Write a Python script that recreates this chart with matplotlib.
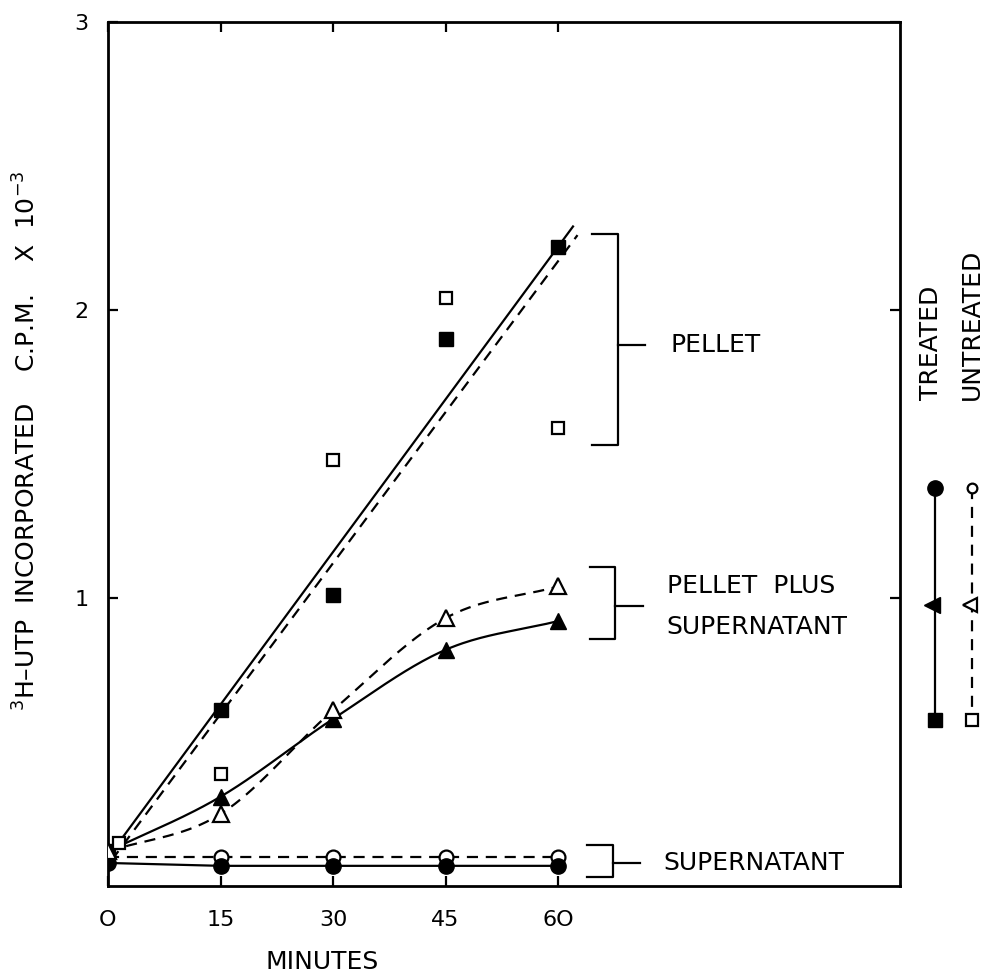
import numpy as np
import matplotlib
matplotlib.use("Agg")
import matplotlib.pyplot as plt

# ---------------- data ----------------
minutes = [0, 15, 30, 45, 60]
x_tick_labels = ["O", "15", "30", "45", "6O"]
y_ticks = [1, 2, 3]
y_tick_labels = ["1", "2", "3"]

# Pellet
pellet_treated_x = [0, 15, 30, 45, 60]
pellet_treated = [0.12, 0.61, 1.01, 1.90, 2.22]
pellet_untreated_x = [1.5, 15, 30, 45, 60]
pellet_untreated = [0.15, 0.39, 1.48, 2.04, 1.59]
# hand-drawn straight lines through the pellet points (end points)
pellet_line_treated_x = [0, 62]
pellet_line_treated_y = [0.10, 2.29]
pellet_line_untreated_x = [0.5, 62.6]
pellet_line_untreated_y = [0.09, 2.26]

# Pellet plus supernatant
ps_treated = [0.12, 0.31, 0.58, 0.82, 0.92]
ps_untreated = [0.12, 0.25, 0.61, 0.93, 1.04]

# Supernatant
sup_treated = [0.08, 0.07, 0.07, 0.07, 0.07]
sup_untreated = [0.10, 0.10, 0.10, 0.10, 0.10]


def smooth(x, y, n=40):
    """Catmull-Rom curve through the given points (for drawing only)."""
    P = np.column_stack([np.asarray(x, float), np.asarray(y, float)])
    P = np.vstack([2 * P[0] - P[1], P, 2 * P[-1] - P[-2]])
    t = np.linspace(0, 1, n)[:, None]
    segs = []
    for i in range(1, len(P) - 2):
        p0, p1, p2, p3 = P[i - 1], P[i], P[i + 1], P[i + 2]
        seg = 0.5 * (2 * p1 + (-p0 + p2) * t
                     + (2 * p0 - 5 * p1 + 4 * p2 - p3) * t ** 2
                     + (-p0 + 3 * p1 - 3 * p2 + p3) * t ** 3)
        segs.append(seg)
    pts = np.vstack(segs)
    return pts[:, 0], pts[:, 1]


plt.rcParams['font.family'] = ['DejaVu Sans']
W, H = 985, 975
fig = plt.figure(figsize=(W / 100, H / 100), dpi=100)
fig.patch.set_facecolor('white')

left, right, top, bottom = 108, 900, 22, 886
ax = fig.add_axes([left / W, 1 - bottom / H, (right - left) / W, (bottom - top) / H])
ax.set_xlim(0, 105.6)
ax.set_ylim(0, 3)

lw = 1.6
dash = (0, (5, 3.5))
k = 'black'

# pellet lines and points
ax.plot(pellet_line_treated_x, pellet_line_treated_y, color=k, lw=lw, zorder=2)
ax.plot(pellet_line_untreated_x, pellet_line_untreated_y, color=k, lw=lw, ls=dash, zorder=2)
ax.plot(pellet_treated_x, pellet_treated, ls='none', marker='s', ms=10, color=k, zorder=4)
ax.plot(pellet_untreated_x, pellet_untreated, ls='none', marker='s', ms=9, mfc='white',
        mec=k, mew=1.6, zorder=5)

# pellet plus supernatant curves
cx, cy = smooth(minutes, ps_treated)
ax.plot(cx, cy, color=k, lw=lw, zorder=2)
cx, cy = smooth(minutes, ps_untreated)
ax.plot(cx, cy, color=k, lw=lw, ls=dash, zorder=2)
ax.plot(minutes, ps_treated, ls='none', marker='^', ms=11, color=k, zorder=4)
ax.plot(minutes, ps_untreated, ls='none', marker='^', ms=11, mfc='white', mec=k,
        mew=1.6, zorder=5)

# supernatant
ax.plot(minutes, sup_untreated, color=k, lw=lw, ls=dash, zorder=2)
ax.plot(minutes, sup_untreated, ls='none', marker='o', ms=10, mfc='white', mec=k,
        mew=1.6, zorder=3)
ax.plot(minutes, sup_treated, color=k, lw=lw, zorder=2)
ax.plot(minutes, sup_treated, ls='none', marker='o', ms=11, color=k, zorder=4)

# brackets with labels
fs = 18
blw = 1.6


def bracket(x0, x1, x2, ylo, yhi, ymid):
    ax.plot([x0, x1, x1, x0], [yhi, yhi, ylo, ylo], color=k, lw=blw, clip_on=False)
    ax.plot([x1, x2], [ymid, ymid], color=k, lw=blw, clip_on=False)


bracket(64.5, 68.0, 71.6, 1.53, 2.265, 1.88)
ax.text(75.0, 1.88, "PELLET", fontsize=fs, ha='left', va='center')
bracket(64.2, 67.6, 71.3, 0.858, 1.108, 0.972)
ax.text(74.5, 1.04, "PELLET  PLUS", fontsize=fs, ha='left', va='center')
ax.text(74.5, 0.90, "SUPERNATANT", fontsize=fs, ha='left', va='center')
bracket(63.9, 67.3, 70.9, 0.031, 0.142, 0.08)
ax.text(74.0, 0.08, "SUPERNATANT", fontsize=fs, ha='left', va='center')

# axes styling
for s in ax.spines.values():
    s.set_linewidth(2.0)
ax.set_xticks(minutes)
ax.set_xticklabels(x_tick_labels, fontsize=16)
ax.set_yticks(y_ticks)
ax.set_yticklabels(y_tick_labels, fontsize=16)
ax.tick_params(axis='x', direction='in', length=7, width=1.6, pad=17,
               top=True, labeltop=False)
ax.tick_params(axis='y', direction='in', length=7, width=1.6, pad=14,
               right=True, labelright=False)
ax.set_xlabel("MINUTES", fontsize=fs)
ax.xaxis.label.set_va('center')
ax.xaxis.set_label_coords(28.5 / 105.6, (886 - 962) / 864)
ax.set_ylabel(r"$^{3}$H–UTP  INCORPORATED    C.P.M.    X  10$^{-3}$", fontsize=fs)
ax.yaxis.label.set_va('center')
ax.yaxis.set_label_coords((27 - 108) / 792, 0.515)

# key on the right (drawn in pixel space of the figure)
lg = fig.add_axes([0, 0, 1, 1])
lg.set_xlim(0, W)
lg.set_ylim(H, 0)
lg.axis('off')
lg.plot([935, 935], [488, 720], color=k, lw=lw)
lg.plot([935], [488], marker='o', ms=11, color=k)
lg.plot([932], [605], marker='<', ms=11, color=k)
lg.plot([935], [720], marker='s', ms=10, color=k)
lg.plot([972, 972], [488, 720], color=k, lw=lw, ls=dash)
lg.plot([972], [488], marker='o', ms=7, mfc='white', mec=k, mew=1.6)
lg.plot([970], [605], marker='<', ms=10, mfc='white', mec=k, mew=1.6)
lg.plot([972], [720], marker='s', ms=9, mfc='white', mec=k, mew=1.6)
lg.text(931, 400, "TREATED", rotation=90, fontsize=fs, ha='center', va='bottom')
lg.text(972, 400, "UNTREATED", rotation=90, fontsize=fs, ha='center', va='bottom')

fig.savefig("out.png", dpi=100)
